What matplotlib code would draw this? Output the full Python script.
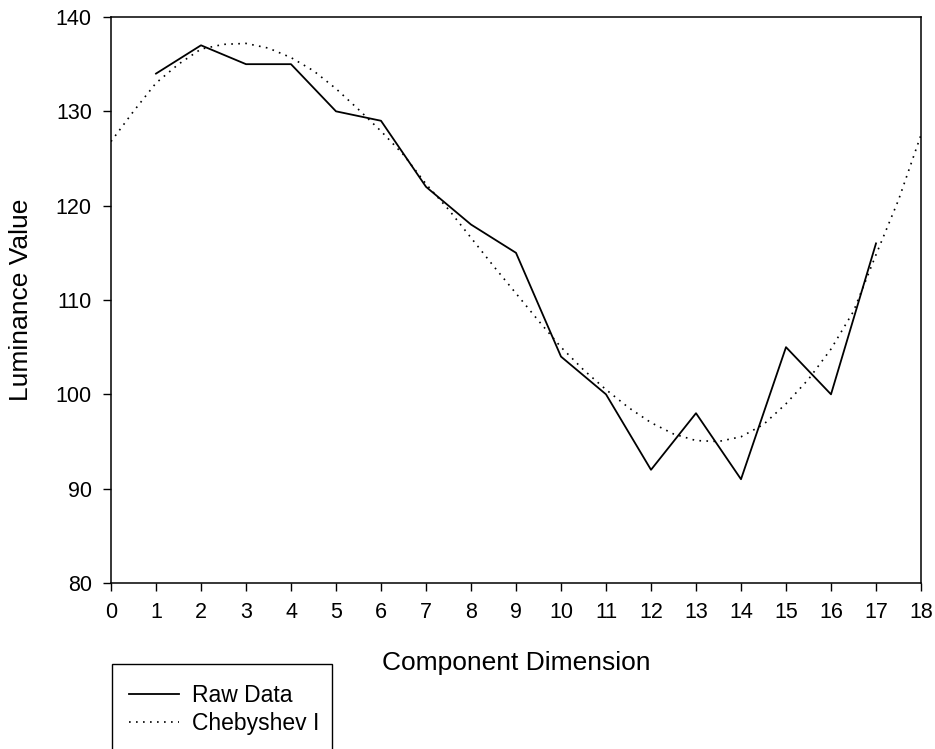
import matplotlib
matplotlib.use("Agg")
import matplotlib.pyplot as plt
from matplotlib.patches import Rectangle

plt.rcParams['font.family'] = ['Liberation Sans', 'DejaVu Sans']

raw_x = list(range(1, 18))
raw_y = [134, 137, 135, 135, 130, 129, 122, 118, 115, 104, 100, 92, 98, 91, 105, 100, 116]

cheb_x = [0, 0.5, 1, 1.5, 2, 2.5, 3, 3.5, 4, 4.5, 5, 5.5, 6, 6.5, 7, 7.5, 8, 8.5, 9,
          9.5, 10, 10.5, 11, 11.5, 12, 12.5, 13, 13.5, 14, 14.5, 15, 15.5, 16, 16.5,
          17, 17.5, 18]
cheb_y = [126.8, 130.0, 133.0, 135.0, 136.6, 137.1, 137.2, 136.7, 135.7, 134.3, 132.4,
          130.2, 127.9, 125.4, 122.3, 119.6, 116.6, 113.6, 110.7, 107.8, 105.0, 102.6,
          100.5, 98.6, 97.0, 95.8, 95.1, 95.0, 95.5, 96.8, 99.0, 101.6, 104.8, 108.8,
          114.8, 120.6, 127.5]

x_ticks = list(range(0, 19))
y_ticks = [80, 90, 100, 110, 120, 130, 140]

W, H = 935, 749
fig = plt.figure(figsize=(W / 100, H / 100), dpi=100)
ax = fig.add_axes([111 / W, 1 - 583 / H, (921 - 111) / W, (583 - 17) / H])

ax.plot(raw_x, raw_y, color='black', linewidth=1.3, linestyle='-', label='Raw Data')
ax.plot(cheb_x, cheb_y, color='black', linewidth=1.2, linestyle=(0, (1, 3.2)),
        label='Chebyshev I')

ax.set_xlim(0, 18)
ax.set_ylim(80, 140)
ax.set_xticks(x_ticks)
ax.set_yticks(y_ticks)
ax.tick_params(direction='out', length=5.8, width=1, labelsize=15.5, colors='black')
ax.tick_params(axis='x', pad=8)
ax.tick_params(axis='y', pad=8)
for s in ax.spines.values():
    s.set_linewidth(1.1)
    s.set_color('black')

ax.set_xlabel('Component Dimension', fontsize=19, labelpad=20)
ax.set_ylabel('Luminance Value', fontsize=19, labelpad=16)

# legend frame extending past the bottom of the figure
fig.patches.append(Rectangle((112 / W, -0.05), (332 - 112) / W, (749 - 664) / H + 0.05,
                             transform=fig.transFigure, fill=False, edgecolor='black',
                             linewidth=1.0, zorder=5))
handles, labels = ax.get_legend_handles_labels()
fig.legend(handles, labels, loc='upper left', bbox_to_anchor=(112.6 / W, 1 - 668 / H),
           frameon=False, fontsize=16.5, handlelength=2.2, handletextpad=0.55,
           labelspacing=0.2, borderpad=0.2)

fig.savefig('out.png', dpi=100)
